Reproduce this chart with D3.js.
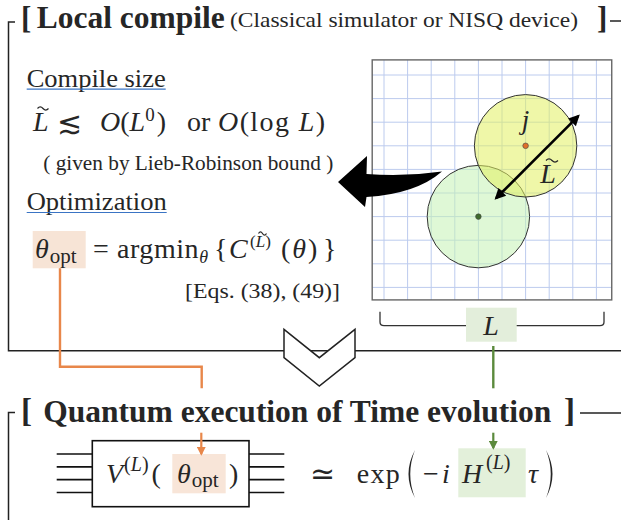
<!DOCTYPE html>
<html lang="en">
<head>
	<meta charset="UTF-8">
	<title>Local compile</title>
	<script src="https://cdn.jsdelivr.net/npm/d3@7/dist/d3.min.js"></script>
	<style>
	*{margin:0; padding:0;}
	body{background:#fff;}
	.grid line{stroke:#bccbee; stroke-width:1;}
	.math{fill:#262626;}
	.frame{fill:none; stroke:#222; stroke-width:1.5;}
	</style>
</head>
<body>
<script>
var width = 621;
var height = 520;
var SERIF = "'Liberation Serif', Tinos, 'Times New Roman', serif";

// lattice sites (grid lines) and the two local regions
var latticeSites = [0, 1, 2, 3, 4, 5, 6, 7, 8, 9];
var regionCenters = [[4, 6], [6, 3]];
var regionFills = ["#c4f2b4", "#e2f160"];
var regionDots = ["#3f6b2c", "#e0702a"];
var regionRadius = 2.17;
var ltildeEnds = [[4.75, 5.22], [8.23, 1.74]];
// qubit wires of the compiled circuit
var wireRows = [0, 1, 2, 3];

var svg = d3.select("body").append("svg")
	.attr("width", width)
	.attr("height", height)
	.attr("font-family", SERIF);
svg.append("rect").attr("width", width).attr("height", height).attr("fill", "#fff");

var defs = svg.append("defs");
function marker(id, color, w, h) {
	defs.append("marker")
		.attr("id", id)
		.attr("viewBox", "0 0 10 10")
		.attr("refX", 8).attr("refY", 5)
		.attr("markerWidth", w).attr("markerHeight", h)
		.attr("markerUnits", "userSpaceOnUse")
		.attr("orient", "auto-start-reverse")
		.append("path").attr("d", "M0,0L10,5L0,10z").attr("fill", color);
}
marker("headK", "#000", 13, 11);
marker("headO", "#e8874a", 9, 9);
marker("headG", "#5b8a3c", 9, 9);

// small tilde over a letter
function tilde(cx, y, w) {
	svg.append("path")
		.attr("d", "M" + (cx - w / 2) + "," + (y + 1) + " q" + (w / 4) + ",-3.2 " + (w / 2) + ",0 t" + (w / 2) + ",0")
		.attr("fill", "none").attr("stroke", "#262626").attr("stroke-width", 1.2);
}
function text(x, y, s, size, cls) {
	return svg.append("text").attr("x", x).attr("y", y).attr("font-size", size)
		.attr("font-family", SERIF)
		.attr("class", cls || "math").text(s);
}
function fit(t, len, adj) {
	return t.attr("textLength", len).attr("lengthAdjust", adj || "spacing");
}

//---------------- top frame ----------------
svg.append("path").attr("class", "frame").attr("d", "M15,22H8.5V350.7H621");
svg.append("path").attr("class", "frame").attr("d", "M610,21H621");
text(21, 28, "[", 31).attr("font-weight", "bold").attr("fill", "#000");
fit(text(36.7, 27.5, "Local compile", 31).attr("font-weight", "bold").attr("fill", "#000"), 188, "spacingAndGlyphs");
fit(text(230, 27, "(Classical simulator or NISQ device)", 22).attr("fill", "#000"), 348, "spacingAndGlyphs");
text(597, 28, "]", 31).attr("font-weight", "bold").attr("fill", "#000");

// headings
[["Compile size", 86.7, 139], ["Optimization", 210, 140]].forEach(function(h) {
	fit(text(26.7, h[1], h[0], 25).attr("fill", "#3a74c4"), h[2], "spacingAndGlyphs");
	svg.append("line").attr("x1", 26.7).attr("x2", 26.7 + h[2])
		.attr("y1", h[1] + 2.5).attr("y2", h[1] + 2.5)
		.attr("stroke", "#3a74c4").attr("stroke-width", 1.2);
});

// L~ <~ O(L^0) or O(log L)
text(33, 131, "L", 28).attr("font-style", "italic");
tilde(43, 107.5, 11);
text(57, 133, "\u2272", 30).attr("font-family", "'DejaVu Serif', serif");
var t1 = text(100, 131, "", 28);
t1.append("tspan").text("O").attr("font-style", "italic");
t1.append("tspan").text("(");
t1.append("tspan").text("L").attr("font-style", "italic");
t1.append("tspan").text("0").attr("font-size", 19).attr("dy", -10);
t1.append("tspan").text(")").attr("dy", 10).attr("dx", 2);
text(187, 131, "or", 28);
var t2 = fit(text(218, 131, "", 28), 107);
t2.append("tspan").text("O").attr("font-style", "italic");
t2.append("tspan").text("(log ");
t2.append("tspan").text("L").attr("font-style", "italic");
t2.append("tspan").text(")");
fit(text(43.3, 170, "( given by Lieb-Robinson bound )", 20).attr("fill", "#111"), 290, "spacingAndGlyphs");

// theta_opt = argmin { C^(L~)(theta) }
svg.append("rect").attr("x", 32.7).attr("y", 231).attr("width", 53).attr("height", 37.3).attr("fill", "#f7e4d6");
var t3 = text(35, 258, "", 28);
t3.append("tspan").text("\u03b8").attr("font-style", "italic");
t3.append("tspan").text("opt").attr("font-size", 21).attr("dy", 5).attr("dx", 1);
var t4 = fit(text(93, 258, "", 28), 115);
t4.append("tspan").text("= argmin");
t4.append("tspan").text("\u03b8").attr("font-style", "italic").attr("font-size", 18).attr("dy", 5);
text(214, 258, "{", 28);
text(229, 258, "C", 28).attr("font-style", "italic");
var t5 = text(250, 247, "", 17);
t5.append("tspan").text("(");
t5.append("tspan").text("L").attr("font-style", "italic");
t5.append("tspan").text(")");
tilde(262.5, 232.5, 8);
var t6 = text(281, 258, "", 28).attr("letter-spacing", 2);
t6.append("tspan").text("(");
t6.append("tspan").text("\u03b8").attr("font-style", "italic");
t6.append("tspan").text(")");
text(323, 258, "}", 28);
fit(text(185, 298, "[Eqs. (38), (49)]", 20).attr("fill", "#111"), 155, "spacingAndGlyphs");

// lattice with the two regions
var sx = d3.scaleLinear().domain([0, 9]).range([384, 596.4]);
var sy = d3.scaleLinear().domain([0, 9]).range([75, 287.4]);
var lat = svg.append("g");
lat.append("rect")
	.attr("x", sx(-0.5)).attr("y", sy(-0.64))
	.attr("width", sx(9.65) - sx(-0.5)).attr("height", sy(9.53) - sy(-0.64))
	.attr("fill", "#fff");
var grid = lat.append("g").classed("grid", true);
grid.selectAll("line.v").data(latticeSites).enter().append("line")
	.attr("x1", function(d) { return sx(d); }).attr("x2", function(d) { return sx(d); })
	.attr("y1", sy(-0.64)).attr("y2", sy(9.53));
grid.selectAll("line.h").data(latticeSites).enter().append("line")
	.attr("y1", function(d) { return sy(d); }).attr("y2", function(d) { return sy(d); })
	.attr("x1", sx(-0.5)).attr("x2", sx(9.65));
lat.append("rect")
	.attr("x", sx(-0.5)).attr("y", sy(-0.64))
	.attr("width", sx(9.65) - sx(-0.5)).attr("height", sy(9.53) - sy(-0.64))
	.attr("fill", "none").attr("stroke", "#666").attr("stroke-width", 1.4);
var rpx = sx(regionRadius) - sx(0);
lat.selectAll("circle.region").data(regionCenters).enter().append("circle")
	.attr("cx", function(d) { return sx(d[0]); })
	.attr("cy", function(d) { return sy(d[1]); })
	.attr("r", rpx)
	.attr("fill", function(d, i) { return regionFills[i]; })
	.attr("fill-opacity", 0.55)
	.attr("stroke", "#333").attr("stroke-width", 1);
lat.selectAll("circle.dot").data(regionCenters).enter().append("circle")
	.attr("cx", function(d) { return sx(d[0]); })
	.attr("cy", function(d) { return sy(d[1]); })
	.attr("r", 2.8)
	.attr("fill", function(d, i) { return regionDots[i]; })
	.attr("stroke", "#444").attr("stroke-width", 0.6);
text(sx(regionCenters[1][0]), 129, "j", 27).attr("font-style", "italic").attr("text-anchor", "middle");
lat.append("line")
	.attr("x1", sx(ltildeEnds[0][0])).attr("y1", sy(ltildeEnds[0][1]))
	.attr("x2", sx(ltildeEnds[1][0])).attr("y2", sy(ltildeEnds[1][1]))
	.attr("stroke", "#000").attr("stroke-width", 2.6)
	.attr("marker-start", "url(#headK)").attr("marker-end", "url(#headK)");
text(548, 183, "L", 28).attr("font-style", "italic").attr("text-anchor", "middle");
tilde(552, 159.5, 12);

// curved arrow towards the text
svg.append("path")
	.attr("d", "M442,171.5 Q404,177 366.5,174 L367,156 L338,182 L365,207 L366.5,197 Q416,194 442,171.5 Z")
	.attr("fill", "#000");

// L bracket
svg.append("path")
	.attr("d", "M380,311.7V322Q380,325.7 384,325.7H600Q604,325.7 604,322V311.7")
	.attr("fill", "none").attr("stroke", "#333").attr("stroke-width", 1.3);
svg.append("rect").attr("x", 466).attr("y", 307.7).attr("width", 50.7).attr("height", 34).attr("fill", "#e3eedb");
text(491, 335, "L", 28).attr("font-style", "italic").attr("text-anchor", "middle");

// links to the quantum part
svg.append("path").attr("d", "M60,268.3V366.7H201.7V388.3")
	.attr("fill", "none").attr("stroke", "#e8874a").attr("stroke-width", 2.4);
svg.append("path").attr("d", "M493.3,346V388.3")
	.attr("fill", "none").attr("stroke", "#5b8a3c").attr("stroke-width", 2.4);

// chevron
svg.append("path")
	.attr("d", "M284,329.3L319.3,357.7L355,329.3V357.7L319.3,386L284,357.7Z")
	.attr("fill", "#fff").attr("stroke", "#222").attr("stroke-width", 1.5);

//---------------- bottom frame ----------------
svg.append("path").attr("class", "frame").attr("d", "M15,412.5H8.5V520");
svg.append("path").attr("class", "frame").attr("d", "M580,413H621");
text(21, 422, "[", 33).attr("font-weight", "bold").attr("fill", "#000");
fit(text(43.3, 422, "Quantum execution of Time evolution", 32).attr("font-weight", "bold").attr("fill", "#000"), 508, "spacingAndGlyphs");
text(564, 422, "]", 33).attr("font-weight", "bold").attr("fill", "#000");

// circuit block
var wy = d3.scaleLinear().domain([0, 3]).range([454, 492.5]);
svg.selectAll("line.wire").data(wireRows).enter().append("path")
	.attr("d", function(d) { return "M56.7," + wy(d) + "H92.3M249," + wy(d) + "H284.3"; })
	.attr("stroke", "#111").attr("stroke-width", 1.6);
svg.append("rect").attr("x", 92.3).attr("y", 440.7).attr("width", 156.7).attr("height", 66)
	.attr("fill", "#fff").attr("stroke", "#111").attr("stroke-width", 1.6);
svg.append("rect").attr("x", 172.3).attr("y", 454).attr("width", 53.4).attr("height", 39.3).attr("fill", "#f8e5d8");
var b1 = text(106, 482.7, "", 28);
b1.append("tspan").text("V").attr("font-style", "italic");
b1.append("tspan").text("(").attr("font-size", 20).attr("dy", -12).attr("dx", 1);
b1.append("tspan").text("L").attr("font-size", 20).attr("font-style", "italic");
b1.append("tspan").text(")").attr("font-size", 20);
b1.append("tspan").text("(").attr("dy", 12).attr("dx", 3);
var b2 = text(177, 482.7, "", 28);
b2.append("tspan").text("\u03b8").attr("font-style", "italic");
b2.append("tspan").text("opt").attr("font-size", 21).attr("dy", 4).attr("dx", 1);
text(229, 482.7, ")", 28);
svg.append("line").attr("x1", 201.3).attr("x2", 201.3).attr("y1", 432.7).attr("y2", 454)
	.attr("stroke", "#e8874a").attr("stroke-width", 2.2).attr("marker-end", "url(#headO)");

// ~ exp(-i H^(L) tau)
text(310, 484, "\u2243", 30).attr("font-family", "'DejaVu Serif', serif");
fit(text(356.7, 483, "exp", 28), 43);
svg.append("rect").attr("x", 458.3).attr("y", 448.3).attr("width", 67.4).attr("height", 49).attr("fill", "#e3f0da");
svg.append("path").attr("d", "M415,450Q402,474 415,498Q405.5,474 415,450Z").attr("fill", "#262626");
svg.append("path").attr("d", "M546,450Q559,474 546,498Q555.5,474 546,450Z").attr("fill", "#262626");
text(423, 483, "\u2212", 28);
text(442, 483, "i", 28).attr("font-style", "italic");
text(462, 483, "H", 28).attr("font-style", "italic");
var b3 = text(486, 469, "", 20);
b3.append("tspan").text("(");
b3.append("tspan").text("L").attr("font-style", "italic");
b3.append("tspan").text(")");
text(528, 483, "\u03c4", 28).attr("font-style", "italic");
svg.append("line").attr("x1", 493.3).attr("x2", 493.3).attr("y1", 432.7).attr("y2", 448)
	.attr("stroke", "#5b8a3c").attr("stroke-width", 2.2).attr("marker-end", "url(#headG)");
</script>
</body>
</html>
